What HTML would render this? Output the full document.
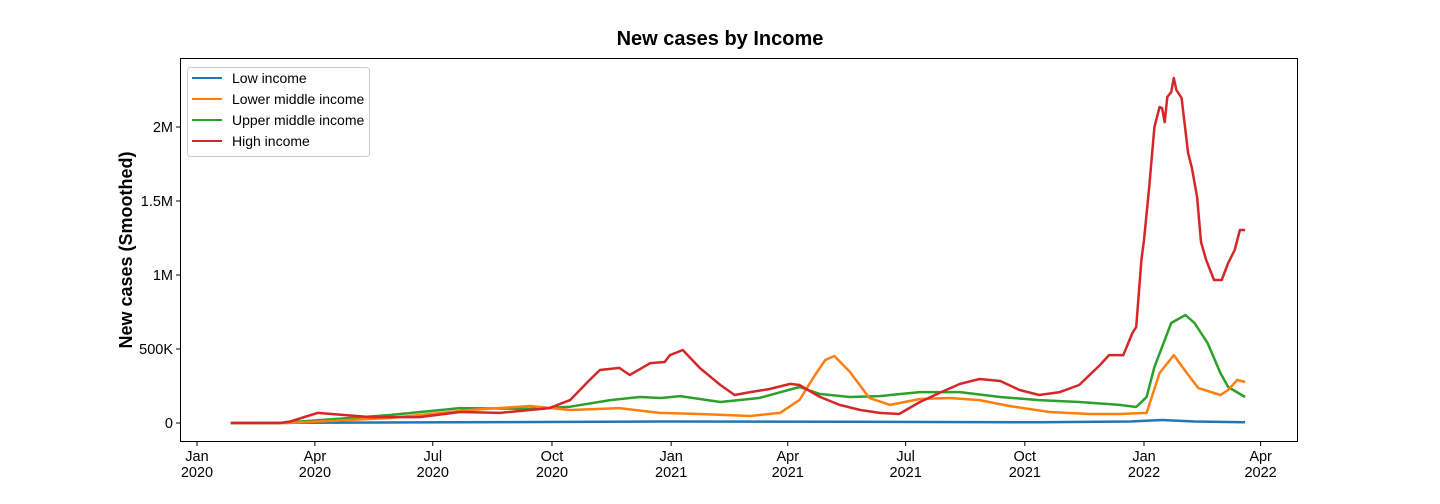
<!DOCTYPE html>
<html><head><meta charset="utf-8"><style>
html,body{margin:0;padding:0;background:#fff;width:1440px;height:504px;overflow:hidden}
svg text{font-family:"Liberation Sans",Arial,sans-serif;fill:#000}
</style></head><body>
<svg id="chart" width="1440" height="504" xmlns="http://www.w3.org/2000/svg">
<text x="720" y="45" text-anchor="middle" font-size="20" font-weight="bold">New cases by Income</text>
<text transform="translate(132,250) rotate(-90)" text-anchor="middle" font-size="18" font-weight="bold">New cases (Smoothed)</text>
<rect x="180.5" y="58.5" width="1117" height="383" fill="none" stroke="#000" stroke-width="1"/>
<g id="axes"></g>
<g id="series"></g>
<g>
<rect x="187.5" y="67.5" width="182" height="89" rx="3" fill="#fff" stroke="#ccc"/>
<line x1="192" y1="78" x2="222" y2="78" stroke="#1f77b4" stroke-width="2"/><text x="232" y="83" font-size="14">Low income</text>
<line x1="192" y1="99" x2="222" y2="99" stroke="#ff7f0e" stroke-width="2"/><text x="232" y="104" font-size="14">Lower middle income</text>
<line x1="192" y1="120" x2="222" y2="120" stroke="#2ca02c" stroke-width="2"/><text x="232" y="125" font-size="14">Upper middle income</text>
<line x1="192" y1="141" x2="222" y2="141" stroke="#d62728" stroke-width="2"/><text x="232" y="146" font-size="14">High income</text>
</g>
</svg>
<script>
// days since 2020-01-01, values in thousands
const lowDays=[26,200,360,500,650,720,745,770,809];
const lowVals=[0,5,10,8,5,10,20,10,5];
const lmDays=[26,70,149,211,257,288,326,357,388,427,450,465,477,485,492,504,519,535,558,581,604,627,658,689,712,733,743,754,764,773,790,796,803,809];
const lmVals=[0,0,34,88,115,88,101,68,61,47,68,155,324,426,453,345,169,122,162,169,155,115,74,61,61,68,338,459,338,236,189,223,291,277];
const umDays=[26,64,149,203,257,288,319,342,358,373,404,434,465,481,504,527,558,589,620,650,681,712,725,733,739,745,752,763,770,780,790,796,809];
const umVals=[0,0,54,101,95,110,155,176,169,182,142,169,243,196,176,182,209,209,176,155,142,122,108,176,378,514,676,730,676,541,338,243,176];
const hiDays=[26,64,72,93,134,172,203,234,272,288,303,311,326,334,350,361,365,375,388,404,415,427,442,458,465,481,496,512,527,542,558,573,589,604,620,635,650,666,681,697,704,715,722,725,729,731,735,739,743,745,747,749,752,754,756,760,765,768,772,775,779,785,791,796,801,805,809];
const hiVals=[0,0,10,68,40,40,74,68,101,155,290,358,372,324,405,412,459,493,372,257,189,209,230,264,257,176,122,88,68,61,142,203,264,297,284,223,189,209,257,392,459,459,608,648,1101,1236,1594,1999,2135,2128,2033,2203,2236,2331,2250,2196,1824,1723,1527,1223,1101,966,966,1081,1169,1304,1304];
const yTickVals=[0,500,1000,1500,2000];
const yTickLabels=["0","500K","1M","1.5M","2M"];
const xTickDays=[0,91,182,274,366,456,547,639,731,821];
const xTickLabels=[["Jan","2020"],["Apr","2020"],["Jul","2020"],["Oct","2020"],["Jan","2021"],["Apr","2021"],["Jul","2021"],["Oct","2021"],["Jan","2022"],["Apr","2022"]];

const NS="http://www.w3.org/2000/svg";
const xs=d=>197+d*1.2955;
const ys=v=>423-v*0.148;
const axes=document.getElementById('axes');
function mk(tag,attrs,parent){const e=document.createElementNS(NS,tag);for(const k in attrs)e.setAttribute(k,attrs[k]);parent.appendChild(e);return e;}
yTickVals.forEach((v,i)=>{
  const y=ys(v);
  const t=mk('line',{x1:176,x2:180.5,y1:y,y2:y,stroke:'#000'},axes);
  
  
  const l=mk('text',{x:173,y:y+5,'text-anchor':'end','font-size':14.5},axes);
  
  
  l.textContent=yTickLabels[i];
});
xTickDays.forEach((d,i)=>{
  const x=xs(d);
  const t=mk('line',{x1:x,x2:x,y1:441.5,y2:446,stroke:'#000'},axes);
  
  
  const l=mk('text',{x:x,y:461,'text-anchor':'middle','font-size':14.5},axes);
  
  
  l.textContent=xTickLabels[i][0];
  const l2=mk('text',{x:x,y:477,'text-anchor':'middle','font-size':14.5},axes);
  
  
  l2.textContent=xTickLabels[i][1];
});
const g=document.getElementById('series');
[[lowDays,lowVals,'#1f77b4','line-low-income'],[umDays,umVals,'#2ca02c','line-upper-middle-income'],[lmDays,lmVals,'#ff7f0e','line-lower-middle-income'],[hiDays,hiVals,'#d62728','line-high-income']].forEach(s=>{
  const pts=s[0].map((d,i)=>xs(d).toFixed(1)+','+ys(s[1][i]).toFixed(1)).join(' ');
  const p=mk('polyline',{points:pts,fill:'none',stroke:s[2],'stroke-width':2.5,'stroke-linejoin':'round'},g);
  
  
});
</script>
</body></html>
